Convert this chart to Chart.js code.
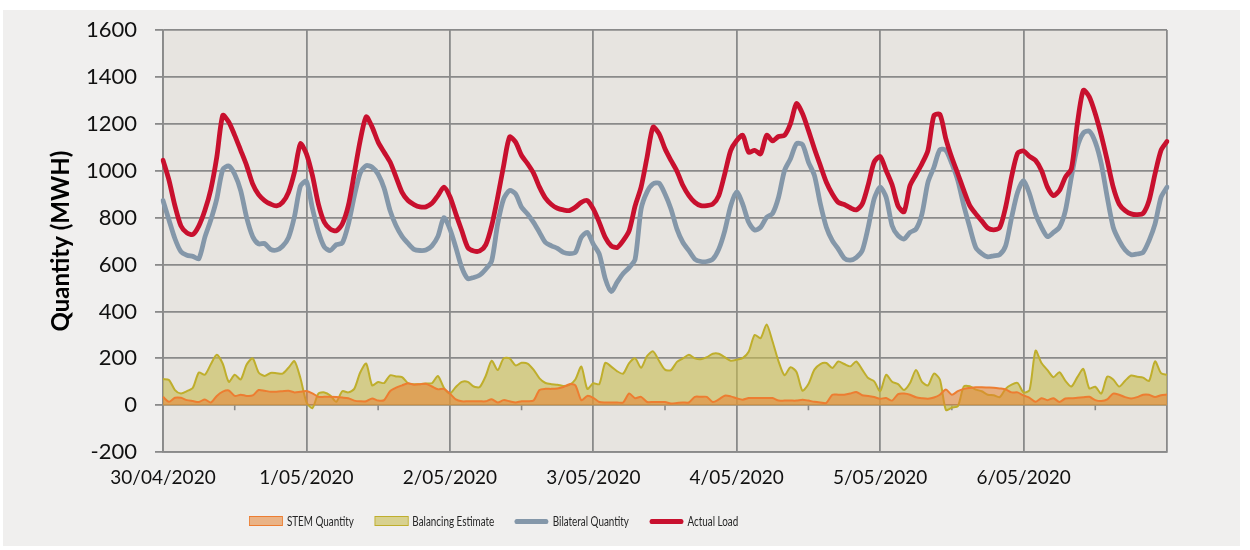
<!DOCTYPE html>
<html>
<head>
<meta charset="utf-8">
<title>Quantity (MWH)</title>
<script src="https://cdn.jsdelivr.net/npm/chart.js@4.4.1/dist/chart.umd.min.js"></script>
<style>
  html, body { margin: 0; padding: 0; background: #fff; }
  #frame { position: absolute; left: 3px; top: 10px; width: 1237px; height: 536px; background: #f0efee; }
  /* legend text in the reference is a narrow face; squeeze Lato to match */
  #legend {
    position: absolute; left: 246px; top: 503px; height: 16px;
    display: flex; align-items: center;
    font-family: Lato, sans-serif; font-size: 12.5px; color: #262626; white-space: nowrap;
    transform: scaleX(0.79); transform-origin: left center;
  }
  #legend .item { display: flex; align-items: center; margin-right: 26px; }
  #legend .sw { width: 43px; margin-right: 5px; box-sizing: border-box; }
</style>
</head>
<body>
<div id="frame">
  <canvas id="chart"></canvas>
  <div id="legend"></div>
</div>
<script>
// ---- data (hourly) ----
const dayLabels = ["30/04/2020", "1/05/2020", "2/05/2020", "3/05/2020", "4/05/2020", "5/05/2020", "6/05/2020"];

// one label per hour, 30/04 00:00 .. 7/05 00:00
const hourLabels = [];
dayLabels.forEach((d) => {
  for (let h = 0; h < 24; h++) hourLabels.push(d + " " + h + ":00");
});
hourLabels.push("7/05/2020 0:00");

const actualLoad = [
  1045, 960, 850, 765, 735, 728, 765, 830, 920, 1058, 1236, 1208, 1151, 1087, 1022, 944, 898, 873, 858, 850, 865, 908, 994, 1115,
  1072, 980, 858, 780, 751, 744, 773, 850, 987, 1129, 1230, 1186, 1122, 1079, 1037, 973, 908, 873, 856, 846, 846, 861, 894, 930,
  890, 816, 744, 673, 658, 658, 684, 766, 887, 1022, 1144, 1122, 1065, 1030, 990, 930, 883, 856, 840, 833, 830, 844, 865, 873,
  837, 780, 716, 680, 673, 702, 744, 850, 930, 1058, 1186, 1158, 1094, 1044, 998, 937, 894, 865, 851, 851, 858, 894, 987, 1087,
  1129, 1151, 1079, 1087, 1072, 1151, 1127, 1146, 1151, 1201, 1286, 1244, 1172, 1094, 1022, 951, 901, 865, 856, 842, 833, 858, 940, 1037,
  1061, 1001, 940, 850, 825, 937, 984, 1030, 1087, 1235, 1240, 1136, 1055, 987, 916, 851, 816, 786, 756, 748, 757, 845, 975, 1075,
  1084, 1061, 1044, 1001, 930, 894, 916, 973, 1008, 1201, 1343, 1315, 1243, 1151, 1044, 930, 858, 830, 816, 813, 818, 873, 987, 1087,
  1125,
];

const bilateralQty = [
  873, 790, 710, 655, 640, 635, 625, 716, 790, 880, 1005, 1020, 985, 915, 800, 720, 688, 690, 665, 662, 678, 715, 805, 935,
  955, 840, 740, 675, 660, 685, 692, 770, 890, 990, 1022, 1015, 985, 925, 830, 765, 720, 690, 665, 660, 662, 680, 720, 800,
  752, 673, 587, 540, 545, 555, 580, 616, 773, 880, 916, 901, 844, 816, 780, 737, 694, 680, 669, 652, 647, 652, 716, 737,
  687, 645, 540, 485, 525, 562, 587, 623, 837, 910, 944, 947, 901, 837, 751, 694, 659, 623, 613, 613, 623, 666, 744, 851,
  910, 858, 780, 747, 759, 801, 818, 887, 1001, 1051, 1115, 1112, 1037, 980, 858, 759, 702, 666, 627, 619, 630, 659, 759, 880,
  930, 887, 766, 723, 709, 737, 751, 816, 951, 1015, 1090, 1087, 1030, 958, 851, 759, 673, 647, 633, 637, 642, 680, 801, 908,
  958, 901, 816, 759, 719, 737, 759, 830, 973, 1101, 1161, 1169, 1122, 1030, 887, 759, 702, 662, 642, 645, 652, 702, 773, 887,
  930,
];

const balancingEst = [
  112, 108, 65, 50, 60, 75, 140, 130, 175, 215, 177, 100, 130, 110, 174, 200, 140, 125, 138, 137, 135, 160, 188, 115,
  14, -12, 50, 55, 42, 15, 60, 55, 70, 140, 178, 85, 99, 95, 128, 123, 120, 94, 90, 90, 93, 94, 125, 75,
  50, 78, 100, 100, 80, 78, 125, 190, 150, 200, 200, 170, 181, 178, 152, 115, 95, 90, 88, 82, 87, 110, 165, 70,
  94, 90, 181, 165, 145, 135, 180, 200, 160, 210, 230, 190, 152, 150, 185, 200, 215, 200, 196, 205, 220, 220, 205, 190,
  194, 201, 228, 300, 286, 345, 272, 187, 128, 162, 142, 62, 91, 152, 176, 180, 159, 187, 176, 166, 187, 152, 116, 102,
  60, 130, 100, 90, 65, 95, 150, 100, 85, 135, 110, -20, -10, -4, 80, 81, 67, 60, 45, 43, 35, 70, 88, 95,
  55, 65, 233, 180, 150, 120, 141, 104, 80, 120, 155, 72, 79, 50, 122, 110, 80, 105, 127, 122, 118, 104, 187, 137,
  130,
];

const stemQty = [
  36, 15, 32, 32, 22, 18, 14, 25, 12, 40, 58, 63, 40, 45, 40, 42, 65, 62, 58, 58, 60, 62, 55, 58,
  61, 51, 36, 36, 36, 35, 33, 30, 20, 17, 17, 29, 20, 22, 60, 75, 85, 94, 88, 90, 92, 80, 68, 70,
  50, 25, 17, 17, 17, 17, 17, 26, 12, 22, 17, 12, 17, 17, 20, 65, 70, 70, 72, 78, 90, 85, 22, 40,
  32, 14, 12, 12, 12, 12, 50, 30, 36, 14, 14, 14, 14, 8, 10, 12, 12, 36, 36, 36, 14, 25, 41, 38,
  30, 24, 31, 31, 31, 31, 31, 20, 20, 20, 20, 24, 20, 15, 12, 10, 45, 45, 45, 50, 57, 43, 40, 35,
  28, 31, 20, 48, 50, 45, 34, 30, 28, 33, 45, 67, 45, 60, 70, 74, 77, 77, 76, 75, 72, 68, 55, 55,
  42, 32, 15, 30, 22, 30, 14, 29, 30, 32, 34, 36, 22, 18, 25, 50, 45, 35, 29, 35, 45, 45, 35, 43,
  46,
];

// ---- styling ----
const GRID = "#8a8a8a";
const PLOT_BG = "#e7e4e0";
const TEXT = "#111";

Chart.defaults.font.family = "Lato";

// plot area fill, Excel style
const plotBg = {
  id: "plotBg",
  beforeDraw(chart) {
    const { ctx, chartArea: a } = chart;
    ctx.save();
    ctx.fillStyle = PLOT_BG;
    ctx.fillRect(a.left, a.top, a.right - a.left, a.bottom - a.top);
    ctx.restore();
  },
};

// small minor ticks at midday, hanging under the zero line
const middayTicks = {
  id: "middayTicks",
  beforeDatasetsDraw(chart) {
    const { ctx } = chart;
    const xs = chart.scales.x;
    const y0 = chart.scales.y.getPixelForValue(0);
    ctx.save();
    ctx.strokeStyle = GRID;
    ctx.lineWidth = 1.6;
    ctx.beginPath();
    for (let i = 12; i < hourLabels.length; i += 24) {
      const px = xs.getPixelForValue(i);
      ctx.moveTo(px, y0);
      ctx.lineTo(px, y0 + 5);
    }
    ctx.stroke();
    ctx.restore();
  },
};

// legend as HTML, built from the datasets (swatch = area box or thick line)
const htmlLegend = {
  id: "htmlLegend",
  afterUpdate(chart) {
    const box = document.getElementById("legend");
    box.innerHTML = "";
    chart.data.datasets.forEach((ds) => {
      const item = document.createElement("div");
      item.className = "item";
      const sw = document.createElement("span");
      sw.className = "sw";
      if (ds.fill) {
        sw.style.height = "10px";
        sw.style.background = ds.backgroundColor;
        sw.style.border = "1.5px solid " + ds.borderColor;
      } else {
        sw.style.height = "5px";
        sw.style.borderRadius = "3px";
        sw.style.background = ds.borderColor;
      }
      const txt = document.createElement("span");
      txt.textContent = ds.label;
      item.appendChild(sw);
      item.appendChild(txt);
      box.appendChild(item);
    });
  },
};

new Chart(document.getElementById("chart"), {
  type: "line",
  data: {
    labels: hourLabels,
    datasets: [
      {
        label: "STEM Quantity",
        data: stemQty,
        fill: "origin",
        backgroundColor: "rgba(230, 130, 50, 0.55)",
        borderColor: "#ed7d31",
        borderWidth: 2,
        order: 3,
      },
      {
        label: "Balancing Estimate",
        data: balancingEst,
        fill: "origin",
        backgroundColor: "rgba(200, 188, 80, 0.6)",
        borderColor: "#bfae2c",
        borderWidth: 2,
        order: 4,
      },
      {
        label: "Bilateral Quantity",
        data: bilateralQty,
        fill: false,
        borderColor: "#8497a9",
        borderWidth: 4.8,
        borderCapStyle: "round",
        order: 2,
      },
      {
        label: "Actual Load",
        data: actualLoad,
        fill: false,
        borderColor: "#c8102e",
        borderWidth: 4.8,
        borderCapStyle: "round",
        order: 1,
      },
    ],
  },
  options: {
    responsive: true,
    maintainAspectRatio: false,
    animation: false,
    layout: { padding: { top: 20, right: 73, bottom: 43, left: 0 } },
    elements: {
      point: { radius: 0 },
      line: { tension: 0.25, borderJoinStyle: "round" },
    },
    plugins: {
      legend: { display: false },
      tooltip: { enabled: false },
    },
    scales: {
      x: {
        type: "category",
        grid: {
          color: (c) => (c.index % 24 === 0 ? GRID : "transparent"),
          lineWidth: 1.8,
          drawTicks: false,
        },
        border: { color: GRID, width: 1.8 },
        ticks: {
          autoSkip: false,
          maxRotation: 0,
          minRotation: 0,
          padding: 14,
          color: TEXT,
          font: { size: 19 },
          callback: (v, i) => (i % 24 === 0 ? dayLabels[i / 24] || "" : ""),
        },
      },
      y: {
        min: -200,
        max: 1600,
        ticks: {
          stepSize: 200,
          padding: 18,
          color: TEXT,
          font: { size: 22 },
          callback: (v) => String(v),
        },
        grid: { color: GRID, lineWidth: 1.8, tickLength: 8 },
        border: { color: GRID, width: 1.8 },
        title: {
          display: true,
          text: "Quantity (MWH)",
          color: "#000",
          font: { size: 24, weight: "bold" },
          padding: { top: 44, bottom: 0 },
        },
        afterFit(s) {
          // fixed axis width; let layout.padding alone decide top/bottom
          s.width = 160;
          s.paddingTop = 0;
          s.paddingBottom = 0;
        },
      },
    },
  },
  plugins: [plotBg, middayTicks, htmlLegend],
});
</script>
</body>
</html>
